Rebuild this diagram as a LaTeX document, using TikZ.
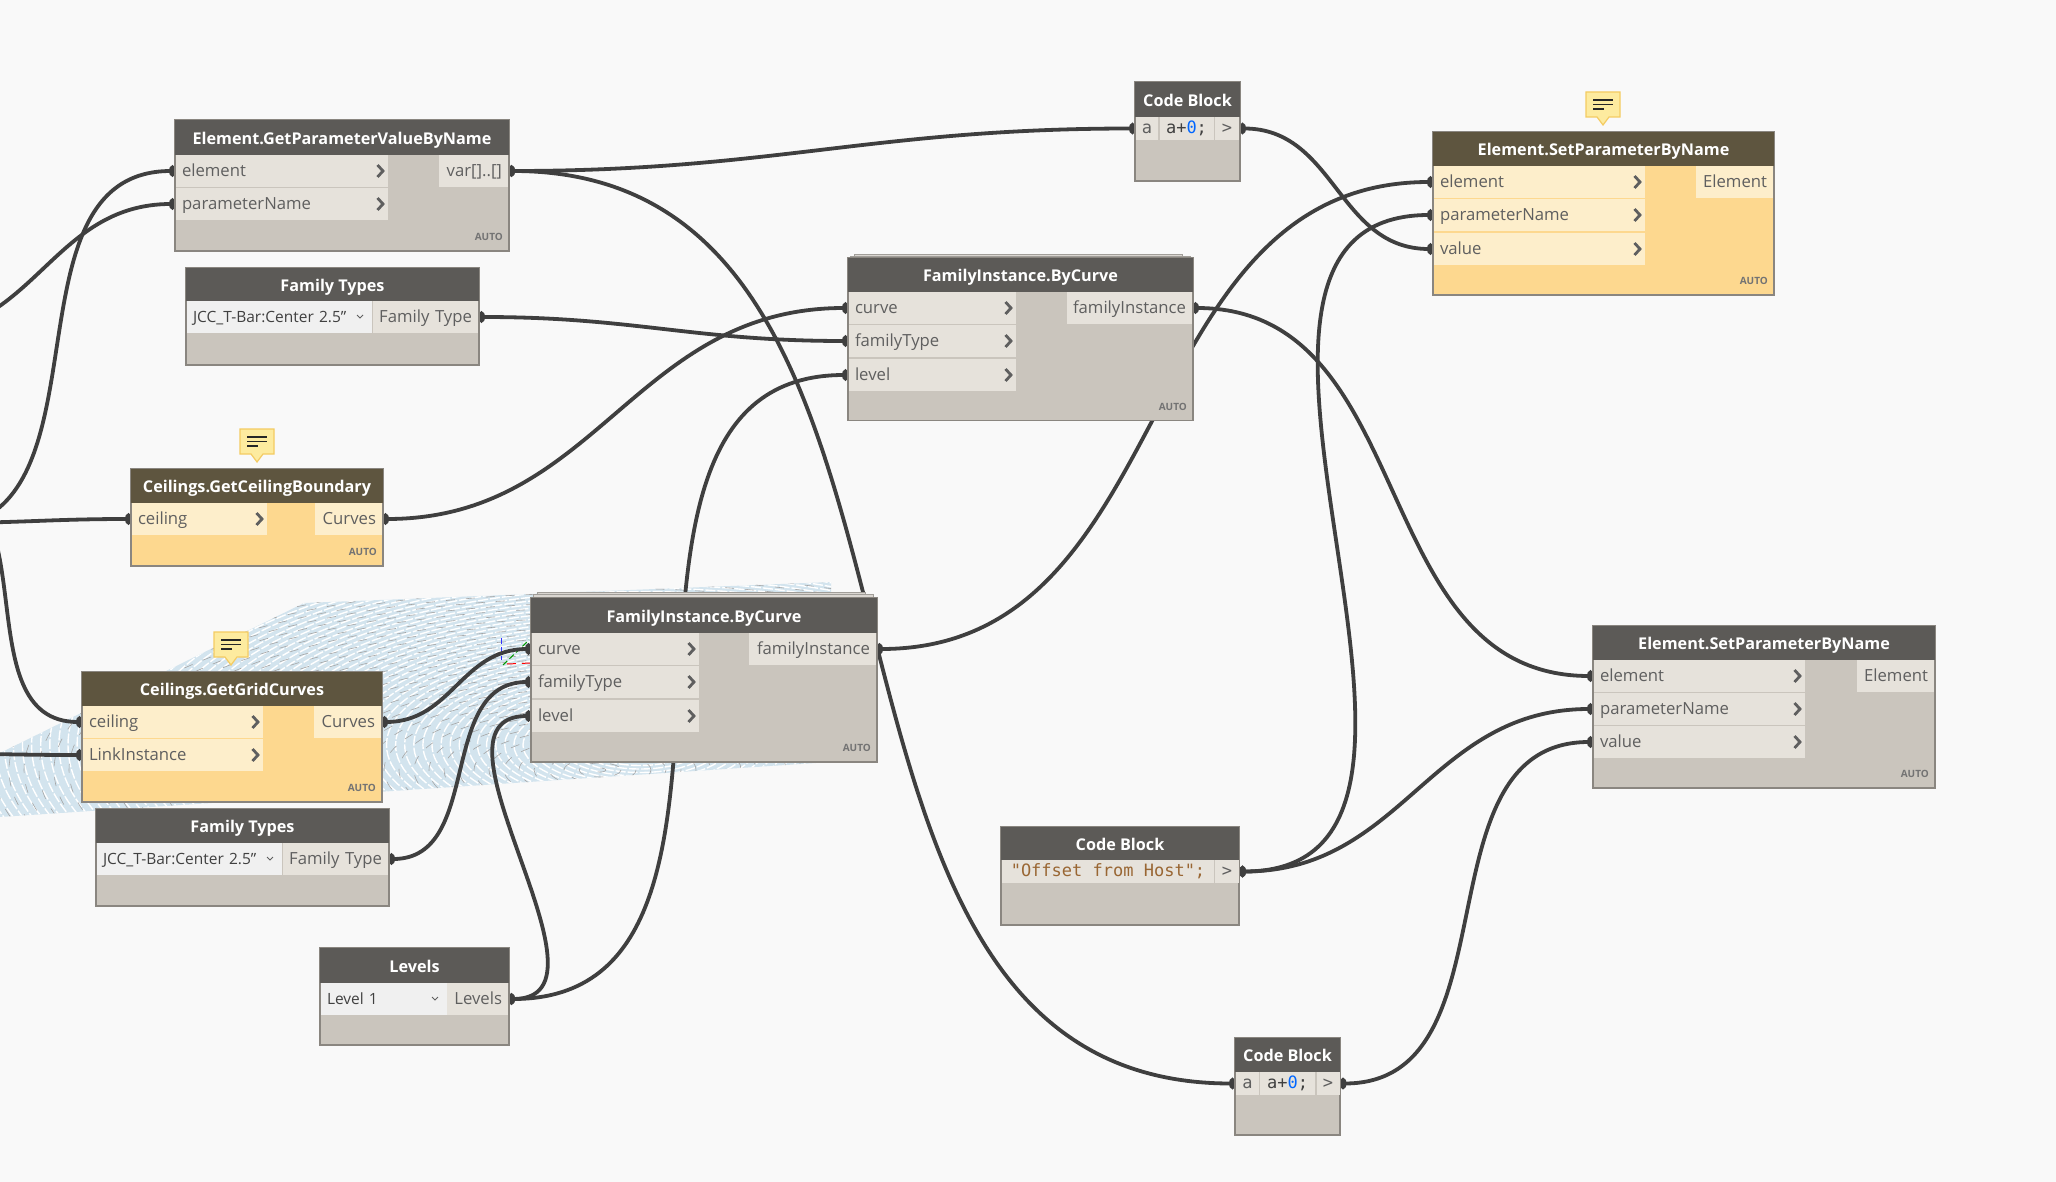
\documentclass[tikz,border=0pt]{standalone}
\usepackage{fontspec}
\setmainfont{Open Sans}
\setmonofont{DejaVu Sans Mono}
\usepackage{tikz}
\usetikzlibrary{arrows.meta, backgrounds, calc, positioning}

\definecolor{dynCanvas}{HTML}{F9F9F9}
\definecolor{dynBody}{HTML}{CAC5BD}
\definecolor{dynBorder}{HTML}{8A8680}
\definecolor{dynHead}{HTML}{5C5A57}
\definecolor{dynRow}{HTML}{E6E2DB}
\definecolor{dynText}{HTML}{5F5F5F}
\definecolor{dynWire}{HTML}{3F3F3F}
\definecolor{selBody}{HTML}{FDD88F}
\definecolor{selHead}{HTML}{5E553F}
\definecolor{selRow}{HTML}{FDEECB}
\definecolor{noteFill}{HTML}{FDEB9F}
\definecolor{noteEdge}{HTML}{F4CB62}
\definecolor{meshBlue}{HTML}{D3E4EE}

% bezier wire, both ends leave horizontally
\newcommand{\wire}[3][]{\draw[wire,#1] let \p1=($(#2)-(#3)$), \n1={veclen(\x1,\y1)*0.42} in
    (#2) .. controls +(\n1,0) and +(-\n1,0) .. (#3);}

\begin{document}
\begin{tikzpicture}[
    x=1pt, y=-1pt,
    dynbody/.style={draw=dynBorder, fill=dynBody, line width=1.3pt, anchor=north west, inner sep=0, outer sep=0},
    selbody/.style={dynbody, fill=selBody},
    dynhead/.style={fill=dynHead, text=white, anchor=north west, inner sep=0, outer sep=0, minimum height=35pt,
        text height=17.5pt, text depth=4pt, font=\fontsize{16.2}{20}\selectfont\bfseries},
    selhead/.style={dynhead, fill=selHead},
    portrow/.style={fill=dynRow, text=dynText, anchor=north west, inner xsep=6pt, inner ysep=0, outer sep=0,
        minimum height=32pt, text height=15.6pt, text depth=4pt, text width=#1pt-12pt, font=\fontsize{16.7}{20}\selectfont},
    inport/.style={portrow=#1, align=left, path picture={
        \draw[line width=2.8pt, draw=dynText] ($(path picture bounding box.east)+(-10.5,-6)$) -- ++(5.5,6) -- ++(-5.5,6);}},
    outport/.style={portrow=#1, align=right, anchor=north east},
    dropdown/.style={fill=black!6, text=black!75, anchor=north west, inner xsep=6pt, inner ysep=0, outer sep=0,
        minimum height=32pt, text height=14.5pt, text depth=4pt, text width=#1pt-12pt, align=left,
        font=\fontsize{15.5}{18}\selectfont, path picture={
        \draw[line width=1pt, draw=dynText] ($(path picture bounding box.east)+(-15,-2)$) -- ++(3,3) -- ++(3,-3);}},
    codecell/.style={fill=dynRow, anchor=north west, inner sep=0, outer sep=0, minimum height=23pt, minimum width=#1pt,
        text height=13pt, text depth=3pt, font=\fontsize{17}{20}\ttfamily},
    autotag/.style={text=black!55, anchor=south east, inner sep=0, font=\fontsize{10}{12}\selectfont\bfseries},
    backcard/.style={draw=dynBorder!80, fill=dynBody!70, line width=1pt, anchor=north west, inner sep=0, minimum height=30pt},
    wire/.style={line width=3.8pt, draw=dynWire, {Circle[length=7pt,width=11pt]}-{Circle[length=7pt,width=11pt]}},
    freewire/.style={-{Circle[length=7pt,width=11pt]}},
    notebubble/.pic={
        \draw[fill=noteFill, draw=noteEdge, line width=1.2pt]
            (-17,0) -- (17,0) -- (17,25) -- (6,25) -- (0,33) -- (-6,25) -- (-17,25) -- cycle;
        \draw[line width=1.5pt, draw=black!85] (-10,8) -- (10,8) (-10,12.5) -- (10,12.5) (-10,17) -- (1,17);
    }
]
\useasboundingbox (0,0) rectangle (2056,1182);

% Element.GetParameterValueByName
\node[dynbody, minimum width=334pt, minimum height=131pt] (gpv) at (175,120) {};
\node[dynhead, minimum width=334pt] (gpvHead) at (gpv.north west) {Element.GetParameterValueByName};
\node[inport=212, xshift=1pt] (gpvElement) at (gpvHead.south west) {element};
\node[inport=212, below=1pt of gpvElement] (gpvParam) {parameterName};
\node[outport=69, xshift=-1pt] (gpvVar) at (gpvHead.south east) {var[]..[]};
\node[autotag] at ($(gpv.south east)+(-6,-10)$) {AUTO};

% Family Types
\node[dynbody, minimum width=293pt, minimum height=97pt] (ftTop) at (186,268) {};
\node[dynhead, minimum width=293pt, minimum height=33pt] (ftTopHead) at (ftTop.north west) {Family Types};
\node[dropdown=185, xshift=1pt] (ftTopList) at (ftTopHead.south west) {JCC\_T-Bar:Center 2.5"};
\node[outport=105, xshift=-1pt] (ftTopOut) at (ftTopHead.south east) {Family Type};

% Ceilings.GetCeilingBoundary
\node[selbody, minimum width=252pt, minimum height=97pt] (gcb) at (131,469) {};
\node[selhead, minimum width=252pt, minimum height=34pt] (gcbHead) at (gcb.north west) {Ceilings.GetCeilingBoundary};
\node[inport=135, fill=selRow, xshift=1pt] (gcbCeiling) at (gcbHead.south west) {ceiling};
\node[outport=67, fill=selRow, xshift=-1pt] (gcbCurves) at (gcbHead.south east) {Curves};
\node[autotag] at ($(gcb.south east)+(-6,-10)$) {AUTO};
\pic at (257,429) {notebubble};

% Ceilings.GetGridCurves
\node[selbody, minimum width=300pt, minimum height=130pt] (ggc) at (82,672) {};
\node[selhead, minimum width=300pt, minimum height=34pt] (ggcHead) at (ggc.north west) {Ceilings.GetGridCurves};
\node[inport=180, fill=selRow, xshift=1pt] (ggcCeiling) at (ggcHead.south west) {ceiling};
\node[inport=180, fill=selRow, below=1pt of ggcCeiling] (ggcLink) {LinkInstance};
\node[outport=67, fill=selRow, xshift=-1pt] (ggcCurves) at (ggcHead.south east) {Curves};
\node[autotag] at ($(ggc.south east)+(-6,-10)$) {AUTO};
\pic at (231,632) {notebubble};

% Family Types, lower one
\node[dynbody, minimum width=293pt, minimum height=97pt] (ftLow) at (96,809) {};
\node[dynhead, minimum width=293pt, minimum height=34pt] (ftLowHead) at (ftLow.north west) {Family Types};
\node[dropdown=185, xshift=1pt] (ftLowList) at (ftLowHead.south west) {JCC\_T-Bar:Center 2.5"};
\node[outport=105, xshift=-1pt] (ftLowOut) at (ftLowHead.south east) {Family Type};

% Levels
\node[dynbody, minimum width=189pt, minimum height=97pt] (lvl) at (320,948) {};
\node[dynhead, minimum width=189pt] (lvlHead) at (lvl.north west) {Levels};
\node[dropdown=126, xshift=1pt] (lvlList) at (lvlHead.south west) {Level 1};
\node[outport=61, xshift=-1pt] (lvlOut) at (lvlHead.south east) {Levels};

% FamilyInstance.ByCurve, lower one
\node[backcard, minimum width=328pt] at (537,592) {};
\node[backcard, minimum width=340pt] at (533,594) {};
\node[dynbody, minimum width=346pt, minimum height=164pt] (fiLow) at (531,598) {};
\node[dynhead, minimum width=346pt] (fiLowHead) at (fiLow.north west) {FamilyInstance.ByCurve};
\node[inport=167, xshift=1pt] (fiLowCurve) at (fiLowHead.south west) {curve};
\node[inport=167, below=1pt of fiLowCurve] (fiLowType) {familyType};
\node[inport=167, below=2pt of fiLowType] (fiLowLevel) {level};
\node[outport=127, xshift=-1pt] (fiLowOut) at (fiLowHead.south east) {familyInstance};
\node[autotag] at ($(fiLow.south east)+(-6,-10)$) {AUTO};

% FamilyInstance.ByCurve, upper one
\node[backcard, minimum width=328pt] at (854,254) {};
\node[backcard, minimum width=340pt] at (850,256) {};
\node[dynbody, minimum width=345pt, minimum height=162.5pt] (fiTop) at (848,258) {};
\node[dynhead, minimum width=345pt, minimum height=34pt] (fiTopHead) at (fiTop.north west) {FamilyInstance.ByCurve};
\node[inport=167, xshift=1pt] (fiTopCurve) at (fiTopHead.south west) {curve};
\node[inport=167, below=1pt of fiTopCurve] (fiTopType) {familyType};
\node[inport=167, below=2pt of fiTopType] (fiTopLevel) {level};
\node[outport=125, xshift=-1pt] (fiTopOut) at (fiTopHead.south east) {familyInstance};
\node[autotag] at ($(fiTop.south east)+(-6,-10)$) {AUTO};

% Element.SetParameterByName, upper one
\node[selbody, minimum width=341pt, minimum height=163pt] (spTop) at (1433,132) {};
\node[selhead, minimum width=341pt, minimum height=34pt] (spTopHead) at (spTop.north west) {Element.SetParameterByName};
\node[inport=211, fill=selRow, xshift=1pt] (spTopElement) at (spTopHead.south west) {element};
\node[inport=211, fill=selRow, below=1pt of spTopElement] (spTopParam) {parameterName};
\node[inport=211, fill=selRow, below=2pt of spTopParam] (spTopValue) {value};
\node[outport=77, fill=selRow, xshift=-1pt] (spTopOut) at (spTopHead.south east) {Element};
\node[autotag] at ($(spTop.south east)+(-6,-10)$) {AUTO};
\pic at (1603,92) {notebubble};

% Element.SetParameterByName, lower one
\node[dynbody, minimum width=342pt, minimum height=162pt] (spLow) at (1593,626) {};
\node[dynhead, minimum width=342pt, minimum height=34pt] (spLowHead) at (spLow.north west) {Element.SetParameterByName};
\node[inport=211, xshift=1pt] (spLowElement) at (spLowHead.south west) {element};
\node[inport=211, below=1pt of spLowElement] (spLowParam) {parameterName};
\node[inport=211, below=1pt of spLowParam] (spLowValue) {value};
\node[outport=77, xshift=-1pt] (spLowOut) at (spLowHead.south east) {Element};
\node[autotag] at ($(spLow.south east)+(-6,-10)$) {AUTO};

% Code Blocks
\node[dynbody, minimum width=105pt, minimum height=99pt] (cbTop) at (1135,82) {};
\node[dynhead, minimum width=105pt] (cbTopHead) at (cbTop.north west) {Code Block};
\node[codecell=22, xshift=1pt, text=dynText] (cbTopIn) at (cbTopHead.south west) {a};
\node[codecell=54, right=1.5pt of cbTopIn, text=black!75] (cbTopCode) {a+\textcolor{blue!60!cyan}{0};};
\node[codecell=24, right=1.5pt of cbTopCode, text=dynText] (cbTopOut) {>};

\node[dynbody, minimum width=238pt, minimum height=98pt] (cbStr) at (1001,827) {};
\node[dynhead, minimum width=238pt, minimum height=33pt] (cbStrHead) at (cbStr.north west) {Code Block};
\node[codecell=212, xshift=1pt, text=brown!80!black] (cbStrCode) at (cbStrHead.south west) {"Offset from Host";};
\node[codecell=24, right=1pt of cbStrCode, text=dynText] (cbStrOut) {>};

\node[dynbody, minimum width=105pt, minimum height=97pt] (cbLow) at (1235,1038) {};
\node[dynhead, minimum width=105pt, minimum height=34pt] (cbLowHead) at (cbLow.north west) {Code Block};
\node[codecell=23, xshift=1pt, text=dynText] (cbLowIn) at (cbLowHead.south west) {a};
\node[codecell=55, right=1pt of cbLowIn, text=black!75] (cbLowCode) {a+\textcolor{blue!60!cyan}{0};};
\node[codecell=23, right=1.5pt of cbLowCode, text=dynText] (cbLowOut) {>};

% free ends, the sources are off the canvas
\coordinate (offA) at (-62,528);
\coordinate (offB) at (-90,335);
\coordinate (offC) at (-60,523);
\coordinate (offD) at (-70,480);
\coordinate (offE) at (-100,753);

\begin{scope}[on background layer]
\fill[dynCanvas] (0,0) rectangle (2056,1182);
% background geometry
\begin{scope}
\clip (0,753) -- (304,603) -- (831,582) -- (831,762) -- (0,817) -- cycle;
\fill[meshBlue] (0,753) -- (304,603) -- (831,582) -- (831,762) -- (0,817) -- cycle;
\foreach \r in {3,6.5,...,260} {
    \draw[white, line width=1.4pt, dash pattern=on 10pt off 2pt] (640,745) ellipse ({2.6*\r} and {\r});
}
\foreach \r in {2,7,...,260} {
    \draw[black!35, line width=.6pt, dash pattern=on 9pt off 11pt] (600,770) ellipse ({3*\r} and {\r});
}
\end{scope}
\draw[blue!80, line width=1pt, dash pattern=on 6pt off 3pt] (501,638) -- (501,660);
\draw[green!60!black, line width=1pt, dash pattern=on 6pt off 3pt] (503,665) -- (529,640);
\draw[red, line width=1pt, dash pattern=on 9pt off 6pt] (507,664) -- (531,663);

\wire[freewire]{offA}{gpvElement.west}
\wire[freewire]{offB}{gpvParam.west}
\wire[freewire]{offC}{gcbCeiling.west}
\wire[freewire]{offD}{ggcCeiling.west}
\wire[freewire]{offE}{ggcLink.west}
\wire{gpvVar.east}{cbTopIn.west}
\wire{gpvVar.east}{cbLowIn.west}
\wire{ftTopOut.east}{fiTopType.west}
\wire{gcbCurves.east}{fiTopCurve.west}
\wire{lvlOut.east}{fiTopLevel.west}
\wire{lvlOut.east}{fiLowLevel.west}
\wire{ftLowOut.east}{fiLowType.west}
\wire{ggcCurves.east}{fiLowCurve.west}
\wire{fiLowOut.east}{spTopElement.west}
\wire{fiTopOut.east}{spLowElement.west}
\wire{cbTopOut.east}{spTopValue.west}
\wire{cbStrOut.east}{spTopParam.west}
\wire{cbStrOut.east}{spLowParam.west}
\wire{cbLowOut.east}{spLowValue.west}
\end{scope}
\end{tikzpicture}
\end{document}
